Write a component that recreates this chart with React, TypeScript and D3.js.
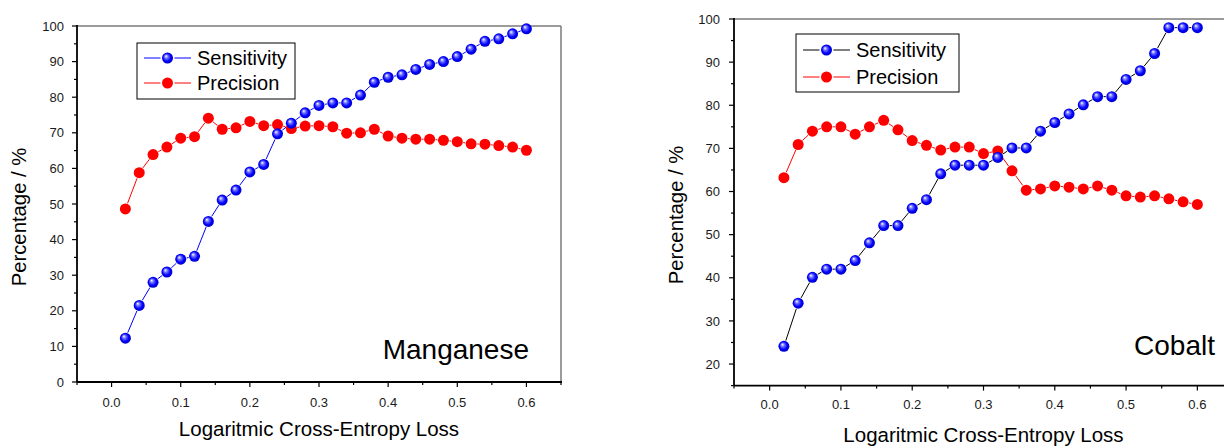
import React from "react";
import * as d3 from "d3";

const xValues = [0.02,0.04,0.06,0.08,0.10,0.12,0.14,0.16,0.18,0.20,0.22,0.24,0.26,0.28,0.30,0.32,0.34,0.36,0.38,0.40,0.42,0.44,0.46,0.48,0.50,0.52,0.54,0.56,0.58,0.60];

const mnSensitivity = [12.3,21.5,28.0,30.9,34.5,35.3,45.1,51.1,53.9,59.0,61.1,69.7,72.7,75.6,77.7,78.4,78.4,80.6,84.2,85.6,86.3,87.8,89.2,90.0,91.4,93.5,95.7,96.4,97.8,99.2];
const mnPrecision = [48.6,58.8,63.9,66.0,68.5,68.9,74.1,71.0,71.4,73.2,72.0,72.3,71.2,71.9,72.0,71.7,69.9,70.0,71.0,69.1,68.5,68.2,68.2,67.9,67.5,66.9,66.8,66.4,66.0,65.1];

const coSensitivity = [24.1,34.1,40.1,42.0,42.0,44.0,48.1,52.1,52.1,56.1,58.1,64.1,66.1,66.1,66.1,67.9,70.1,70.1,74.0,76.0,78.0,80.1,82.0,82.0,86.0,88.0,92.0,98.0,98.0,98.0];
const coPrecision = [63.2,70.9,74.0,75.0,75.0,73.3,75.0,76.5,74.3,71.8,70.7,69.6,70.3,70.3,68.8,69.4,64.8,60.3,60.6,61.3,61.0,60.6,61.3,60.3,59.0,58.7,59.0,58.3,57.6,57.0];

const xTickLabels = ["0.0","0.1","0.2","0.3","0.4","0.5","0.6"];
const mnYTicks = [0,10,20,30,40,50,60,70,80,90,100];
const coYTicks = [20,30,40,50,60,70,80,90,100];
const seriesNames = ["Sensitivity","Precision"];
const xTitle = "Logaritmic Cross-Entropy Loss";
const yTitle = "Percentage / %";

const FONT = "'Liberation Sans', Arial, Helvetica, sans-serif";
const R = 5.5;

type PanelProps = {
  id: string;
  px0: number; px1: number; pyTop: number; pyBottom: number;
  yDomain: [number, number];
  yTicks: number[];
  sens: number[]; prec: number[];
  sensLine: string;
  label: string; labelX: number; labelY: number;
  legend: { x: number; y: number; w: number; h: number; row1: number; row2: number };
  yTitleX: number; yTitleY: number;
  xTitleY: number; xTickY: number; yTickX: number;
};

function segs(pts: [number, number][], gap: number) {
  const out: string[] = [];
  for (let i = 0; i < pts.length - 1; i++) {
    const [x1, y1] = pts[i];
    const [x2, y2] = pts[i + 1];
    const dx = x2 - x1, dy = y2 - y1;
    const L = Math.hypot(dx, dy);
    if (L <= 2 * gap) continue;
    const ux = dx / L, uy = dy / L;
    out.push(`M${x1 + ux * gap},${y1 + uy * gap}L${x2 - ux * gap},${y2 - uy * gap}`);
  }
  return out.join("");
}

function Panel(p: PanelProps) {
  const x = d3.scaleLinear().domain([-0.05, 0.65]).range([p.px0, p.px1]);
  const y = d3.scaleLinear().domain(p.yDomain).range([p.pyBottom, p.pyTop]);
  const xMajor = xTickLabels.map(Number);
  const xMinor = d3.range(-0.05, 0.651, 0.1);
  const yMinor = d3.range(p.yDomain[0] % 10 === 0 ? p.yDomain[0] + 5 : p.yDomain[0], p.yDomain[1], 10).filter(v => v % 10 !== 0);
  const sPts = xValues.map((v, i) => [x(v), y(p.sens[i])] as [number, number]);
  const pPts = xValues.map((v, i) => [x(v), y(p.prec[i])] as [number, number]);
  const gid = `sphere-${p.id}`;
  const lg = p.legend;
  const lx0 = lg.x + 7, lx1 = lg.x + 54, lm = (lx0 + lx1) / 2;
  return (
    <g>
      <defs>
        <radialGradient id={gid} cx="50%" cy="50%" r="55%" fx="35%" fy="32%">
          <stop offset="0%" stopColor="#ffffff" />
          <stop offset="30%" stopColor="#6f6fff" />
          <stop offset="65%" stopColor="#0000ff" />
          <stop offset="100%" stopColor="#0000c0" />
        </radialGradient>
      </defs>
      <line x1={p.px0} x2={p.px1} y1={p.pyTop} y2={p.pyTop} stroke="#7a7a7a" strokeWidth={1.5} />
      <line x1={p.px1} x2={p.px1} y1={p.pyTop} y2={p.pyBottom} stroke="#7a7a7a" strokeWidth={1.5} />
      <line x1={p.px0} x2={p.px1 + 1} y1={p.pyBottom} y2={p.pyBottom} stroke="#000" strokeWidth={1.8} />
      <line x1={p.px0} x2={p.px0} y1={p.pyTop - 1} y2={p.pyBottom} stroke="#000" strokeWidth={1.8} />
      {xMajor.map((v, i) => (
        <g key={"xm" + i}>
          <line x1={x(v)} x2={x(v)} y1={p.pyBottom} y2={p.pyBottom + 5} stroke="#000" strokeWidth={1.2} />
          <text x={x(v)} y={p.xTickY} textAnchor="middle" fontSize={13} fill="#1a1a1a" fontFamily={FONT}>{xTickLabels[i]}</text>
        </g>
      ))}
      {xMinor.map((v, i) => (
        <line key={"xn" + i} x1={x(v)} x2={x(v)} y1={p.pyBottom} y2={p.pyBottom + 3} stroke="#000" strokeWidth={1.2} />
      ))}
      {p.yTicks.map((v, i) => (
        <g key={"ym" + i}>
          <line x1={p.px0 - 5} x2={p.px0} y1={y(v)} y2={y(v)} stroke="#000" strokeWidth={1.2} />
          <text x={p.yTickX} y={y(v)} dy="0.36em" textAnchor="end" fontSize={13} fill="#1a1a1a" fontFamily={FONT}>{v}</text>
        </g>
      ))}
      {yMinor.map((v, i) => (
        <line key={"yn" + i} x1={p.px0 - 3} x2={p.px0} y1={y(v)} y2={y(v)} stroke="#000" strokeWidth={1.2} />
      ))}
      <text x={(p.px0 + Math.min(p.px1, 1233)) / 2} y={p.xTitleY} textAnchor="middle" fontSize={20.5} fill="#000" fontFamily={FONT}>{xTitle}</text>
      <text transform={`translate(${p.yTitleX},${p.yTitleY}) rotate(-90)`} textAnchor="middle" fontSize={20.3} fill="#000" fontFamily={FONT}>{yTitle}</text>
      <path d={segs(pPts, R + 0.5)} stroke="#ff0000" strokeWidth={1} fill="none" />
      <path d={segs(sPts, R + 0.5)} stroke={p.sensLine} strokeWidth={1} fill="none" />
      {pPts.map(([cx, cy], i) => <circle key={"p" + i} cx={cx} cy={cy} r={R} fill="#ff0000" />)}
      {sPts.map(([cx, cy], i) => <circle key={"s" + i} cx={cx} cy={cy} r={R} fill={`url(#${gid})`} />)}
      <text x={p.labelX} y={p.labelY} textAnchor="end" fontSize={28} fill="#000" fontFamily={FONT}>{p.label}</text>
      <rect x={lg.x} y={lg.y} width={lg.w} height={lg.h} fill="#fff" stroke="#000" strokeWidth={1} />
      {[0, 1].map(k => {
        const ry = k === 0 ? lg.row1 : lg.row2;
        const col = k === 0 ? p.sensLine : "#ff0000";
        return (
          <g key={"lg" + k}>
            <line x1={lx0} x2={lm - R - 1.5} y1={ry} y2={ry} stroke={col} strokeWidth={1} />
            <line x1={lm + R + 1.5} x2={lx1} y1={ry} y2={ry} stroke={col} strokeWidth={1} />
            <circle cx={lm} cy={ry} r={R} fill={k === 0 ? `url(#${gid})` : "#ff0000"} />
            <text x={lx1 + 6} y={ry} dy="0.36em" fontSize={20} fill="#000" fontFamily={FONT}>{seriesNames[k]}</text>
          </g>
        );
      })}
    </g>
  );
}

export default function App() {
  return (
    <svg width={1224} height={448} style={{ position: "absolute", left: 0, top: 0, background: "#fff" }}>
      <rect x={0} y={0} width={1224} height={448} fill="#fff" />
      <Panel
        id="mn" px0={77} px1={561} pyTop={26} pyBottom={382}
        yDomain={[0, 100]} yTicks={mnYTicks}
        sens={mnSensitivity} prec={mnPrecision} sensLine="#0000ff"
        label="Manganese" labelX={529} labelY={359}
        legend={{ x: 137, y: 43, w: 158, h: 56, row1: 58, row2: 83 }}
        yTitleX={26} yTitleY={217} xTitleY={436} xTickY={407} yTickX={64}
      />
      <Panel
        id="co" px0={734} px1={1233} pyTop={19} pyBottom={385.6}
        yDomain={[15, 100]} yTicks={coYTicks}
        sens={coSensitivity} prec={coPrecision} sensLine="#000000"
        label="Cobalt" labelX={1215} labelY={355}
        legend={{ x: 796, y: 34, w: 163, h: 58, row1: 50, row2: 77 }}
        yTitleX={683} yTitleY={215} xTitleY={442} xTickY={409} yTickX={720}
      />
    </svg>
  );
}
